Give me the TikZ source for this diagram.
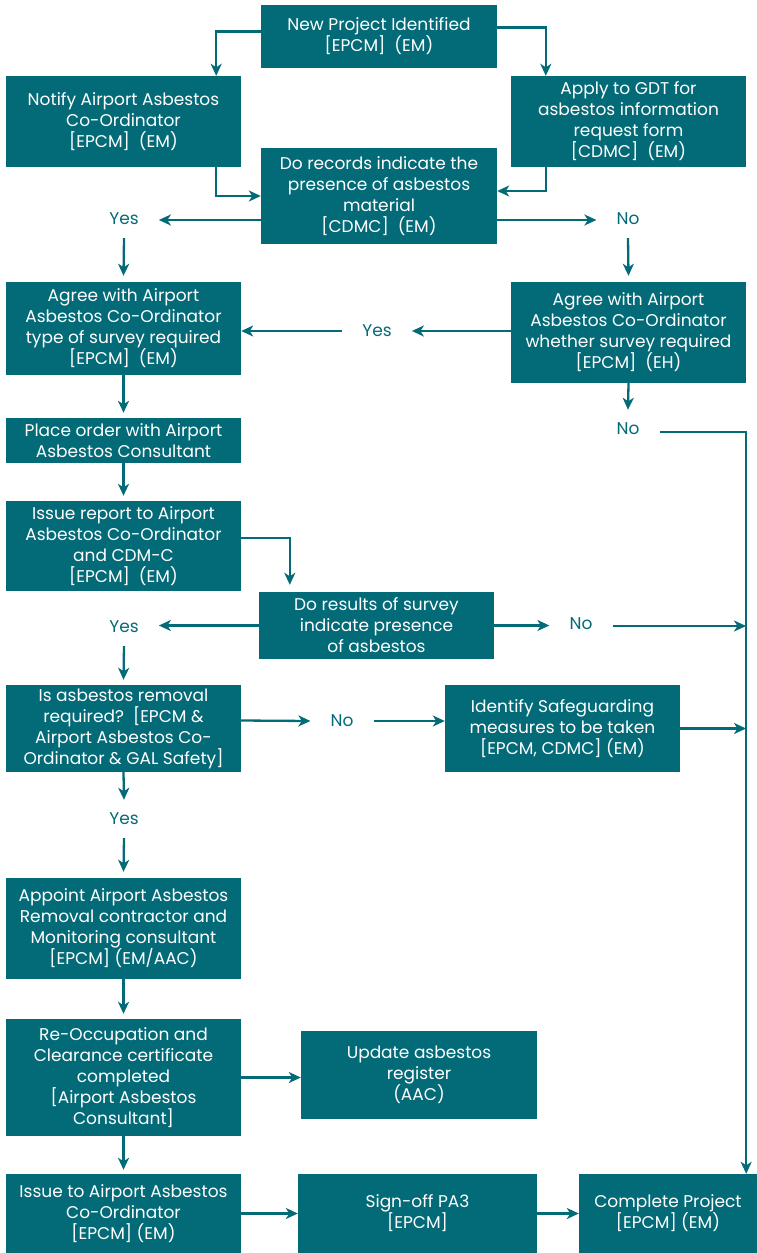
\documentclass[tikz,border=0pt]{standalone}
\usepackage{fontspec}
\setmainfont{Poppins}
\usetikzlibrary{arrows.meta}
\definecolor{tealc}{HTML}{036A77}
\tikzset{
  box/.style={fill=tealc, text=white, align=center, inner sep=0pt,
    font=\fontsize{17}{21}\selectfont},
  lbl/.style={text=tealc, inner xsep=20pt, inner ysep=13pt,
    font=\fontsize{17}{21}\selectfont},
  arr/.style={draw=tealc, line width=2.3pt,
    -{Stealth[length=12pt,width=11pt,inset=3.5pt]}},
}
\begin{document}
\begin{tikzpicture}[x=1pt,y=-1pt]
\useasboundingbox (0,0) rectangle (757,1253);
% boxes
\node[box, minimum width=236pt, minimum height=63pt] (new) at (379,36.5) {New Project Identified\\{}[EPCM]\ \ (EM)};
\node[box, minimum width=235pt, minimum height=91pt] (notify) at (123.5,121.5) {Notify Airport Asbestos\\Co-Ordinator\\{}[EPCM]\ \ (EM)};
\node[box, minimum width=235pt, minimum height=91pt] (apply) at (628.5,121.5) {Apply to GDT for\\asbestos information\\request form\\{}[CDMC]\ \ (EM)};
\node[box, minimum width=236pt, minimum height=96pt] (records) at (379,196) {Do records indicate the\\presence of asbestos\\material\\{}[CDMC]\ \ (EM)};
\node[lbl] (yes1) at (124,219) {Yes};
\node[lbl] (no1) at (628,219) {No};
\node[box, minimum width=235pt, minimum height=93pt] (agree1) at (123.5,328.5) {Agree with Airport\\Asbestos Co-Ordinator\\type of survey required\\{}[EPCM]\ \ (EM)};
\node[box, minimum width=235pt, minimum height=101pt] (agree2) at (628.5,332.5) {Agree with Airport\\Asbestos Co-Ordinator\\whether survey required\\{}[EPCM]\ \ (EH)};
\node[lbl] (yes2) at (377,331) {Yes};
\node[lbl] (no2) at (628,429) {No};
\node[box, minimum width=235pt, minimum height=45pt] (place) at (123.5,440.5) {Place order with Airport\\Asbestos Consultant};
\node[box, minimum width=235pt, minimum height=90pt] (report) at (123.5,546) {Issue report to Airport\\Asbestos Co-Ordinator\\and CDM-C\\{}[EPCM]\ \ (EM)};
\node[box, minimum width=235pt, minimum height=67pt] (results) at (376.5,625.5) {Do results of survey\\indicate presence\\of asbestos};
\node[lbl] (yes3) at (124,627) {Yes};
\node[lbl] (no3) at (581,624) {No};
\node[box, minimum width=235pt, minimum height=87pt] (removal) at (123.5,728.5) {Is asbestos removal\\required?\ \ [EPCM \&\\Airport Asbestos Co-\\Ordinator \& GAL Safety]};
\node[lbl] (no4) at (342,721) {No};
\node[box, minimum width=235pt, minimum height=87pt] (safe) at (562.5,728.5) {Identify Safeguarding\\measures to be taken\\{}[EPCM, CDMC] (EM)};
\node[lbl] (yes4) at (124,819) {Yes};
\node[box, minimum width=235pt, minimum height=101pt] (appoint) at (123.5,928.5) {Appoint Airport Asbestos\\Removal contractor and\\Monitoring consultant\\{}[EPCM] (EM/AAC)};
\node[box, minimum width=235pt, minimum height=117pt] (reocc) at (123.5,1077.5) {Re-Occupation and\\Clearance certificate\\completed\\{}[Airport Asbestos\\Consultant]};
\node[box, minimum width=236pt, minimum height=88pt] (update) at (419,1075) {Update asbestos\\register\\(AAC)};
\node[box, minimum width=235pt, minimum height=79pt] (issueto) at (123.5,1213.5) {Issue to Airport Asbestos\\Co-Ordinator\\{}[EPCM] (EM)};
\node[box, minimum width=239pt, minimum height=79pt] (signoff) at (417.5,1213.5) {Sign-off PA3\\{}[EPCM]};
\node[box, minimum width=178pt, minimum height=79pt] (complete) at (668,1213.5) {Complete Project\\{}[EPCM] (EM)};
\coordinate (j1) at (746,626);
\coordinate (j2) at (746,727);
% connectors
\draw[arr] ([yshift=5pt]new.west) -| ([xshift=-25pt]notify.north east);
\draw[arr] ([yshift=9pt]new.east) -| ([xshift=35pt]apply.north west);
\draw[arr] ([xshift=-25pt]notify.south east) |- (records.west);
\draw[arr] ([xshift=35pt]apply.south west) |- ([yshift=5pt]records.east);
\draw[arr] ([yshift=-24pt]records.west) -- (yes1.east |- 0,220);
\draw[arr] ([yshift=-24pt]records.east) -- (no1.west |- 0,220);
\draw[arr] (yes1.south) -- ([yshift=6pt]agree1.north);
\draw[arr] (no1.south) -- ([yshift=6pt]agree2.north);
\draw[arr] (agree2.west |- yes2) -- (yes2.east);
\draw[arr] (yes2.west) -- (agree1.east |- yes2);
\draw[arr] (agree2.south) -- (no2.north);
\draw[arr] (no2.east |- 0,432) -| ([xshift=-11pt]complete.north east);
\draw[arr] (agree1.south) -- ([yshift=5pt]place.north);
\draw[arr] (place.south) -- ([yshift=5pt]report.north);
\draw[arr] ([yshift=8pt]report.east) -| ([xshift=31pt,yshift=7pt]results.north west);
\draw[arr] (results.west) -- (results.west -| yes3.east);
\draw[arr] (yes3.south) -- ([yshift=5pt]removal.north);
\draw[arr] (results.east) -- (results.east -| no3.west);
\draw[arr] (no3.east |- j1) -- (j1);
\draw[arr] ([yshift=8pt]removal.east) -- (no4.west);
\draw[arr] (no4.east) -- (no4.east -| safe.west);
\draw[arr] (safe.east) -- (safe.east -| j2);
\draw[arr] (removal.south) -- (yes4.north);
\draw[arr] (yes4.south) -- ([yshift=6pt]appoint.north);
\draw[arr] (appoint.south) -- ([yshift=5pt]reocc.north);
\draw[arr] (reocc.east) -- (reocc.east -| update.west);
\draw[arr] (reocc.south) -- ([yshift=4pt]issueto.north);
\draw[arr] (issueto.east) -- (signoff.west);
\draw[arr] (signoff.east) -- (complete.west);
\end{tikzpicture}
\end{document}
